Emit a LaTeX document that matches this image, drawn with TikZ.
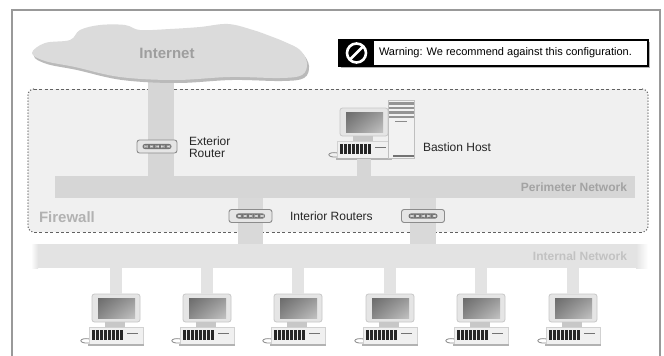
\documentclass[tikz,border=0pt]{standalone}
\usepackage{fontspec}
\setmainfont{Liberation Sans}
\usetikzlibrary{shadings}
\begin{document}
\begin{tikzpicture}[x=1pt,y=-1pt,
  every node/.style={inner sep=0pt, outer sep=0pt},
  frameline/.style={draw=black!40, line width=1.2pt},
  dashborder/.style={draw=black!62, line width=1pt, dash pattern=on 3pt off 2.4pt},
  dotborder/.style={draw=black!62, line width=1.1pt, dash pattern=on 1.1pt off 1.9pt},
  netbar/.style={fill=#1, minimum height=22pt},
  stemline/.style={draw=#1, line width=12pt},
  netlabel/.style={font=\bfseries\fontsize{12}{14}\selectfont, text=#1},
  zonelabel/.style={font=\bfseries\fontsize{15}{18}\selectfont, text=#1},
  plainlabel/.style={font=\fontsize{12}{12.5}\selectfont, text=black!85, align=left},
  router/.style={draw=black!45, fill=black!10, line width=0.9pt, rounded corners=2.5pt,
    minimum width=#1, minimum height=13pt,
    path picture={
      \fill[black!55] ([shift={(-14.5,-2.6)}]path picture bounding box.center) rectangle ++(29,5.2);
      \foreach \k in {0,...,4}
        \fill[black!12] ([shift={(-12.6+\k*5.6,-0.8)}]path picture bounding box.center) rectangle ++(3.2,1.6);
    }},
  monitor/.style={draw=black!22, fill=black!10, line width=0.8pt, rounded corners=2.5pt,
    minimum width=48pt, minimum height=28pt},
  cbase/.style={draw=black!18, fill=black!6, line width=0.6pt, minimum width=54pt, minimum height=18pt},
  tower/.style={draw=black!25, fill=black!5, line width=0.7pt, minimum width=26pt, minimum height=58pt,
    path picture={
      \foreach \k in {0,...,3}
        \fill[black!42] ([shift={(-13,-27+\k*4.6)}]path picture bounding box.center) rectangle ++(26,2.6);
      \fill[black!45] ([shift={(-6,-8.5)}]path picture bounding box.center) rectangle ++(12,1.2);
      \fill[black!55] ([shift={(-8,25.5)}]path picture bounding box.center) rectangle ++(21,2.5);
    }},
  computer/.pic={
    \draw[black!45, line width=0.8pt] (-26,45) .. controls (-38,43) and (-38,50) .. (-27,49);
    \node[monitor] (-monitor) at (0,14) {};
    \shade[upper left=black!58, upper right=black!40, lower left=black!46, lower right=black!24]
      (-18,4) rectangle (19,24);
    \fill[black!22] (-11,28) rectangle (9,33);
    \node[cbase] (-base) at (0,42) {};
    \foreach \k in {0,...,7}
      \fill[black!85] (-24+4*\k,36) rectangle ++(2.5,10);
    \fill[black!55] (11,38.6) rectangle (22,40.4);
    \fill[black!30] (-28,49.5) rectangle (28,51.5);
  }
]
\useasboundingbox (0,0) rectangle (664,356);
\fill[white] (0,0) rectangle (664,356);

% outer frame
\draw[frameline] (12,356) -- (12,10) -- (660,10) -- (660,356);

% firewall zone
\fill[black!6, rounded corners=6pt] (28,89) rectangle (648,232);
\draw[dotborder, rounded corners=6pt] (34,89) -- (28,89) -- (28,232) -- (34,232);
\draw[dotborder, rounded corners=6pt] (642,89) -- (648,89) -- (648,232) -- (642,232);
\draw[dashborder] (34,89) -- (642,89);
\draw[dashborder] (34,232) -- (642,232);

% network backbones
\node[netbar=black!16, minimum width=580pt] (perim) at (345,187) {};
\node[netbar=black!11, minimum width=598pt, minimum height=24pt] (intnet) at (337,256) {};
\shade[left color=white, right color=black!11] (31,244) rectangle (38,268);
\shade[left color=black!11, right color=white] (636,244) rectangle (648,268);

% cloud and its drop
\coordinate (cloudfoot) at (161,72);
\draw[stemline=black!16, line width=26pt] (cloudfoot) -- (cloudfoot |- perim.north);
\fill[black!27, shift={(2,3)}] plot[smooth cycle, tension=0.6] coordinates {
  (32,53) (45,43) (70,40) (80,30) (100,25) (125,25) (140,30) (170,29) (200,27)
  (228,24) (253,30) (270,36) (285,42) (300,50) (307,63) (302,75) (280,78)
  (230,77) (175,80) (120,77) (75,67) (45,61)};
\fill[black!14] plot[smooth cycle, tension=0.6] coordinates {
  (32,53) (45,43) (70,40) (80,30) (100,25) (125,25) (140,30) (170,29) (200,27)
  (228,24) (253,30) (270,36) (285,42) (300,50) (307,63) (302,75) (280,78)
  (230,77) (175,80) (120,77) (75,67) (45,61)};
\node[zonelabel=black!38] (inettext) at (167,53) {Internet};

% routers
\node[router=40pt] (extr) at (157,146.5) {};
\node[plainlabel, anchor=west] (extrtext) at (189,147) {Exterior\\Router};

\coordinate (irA) at (250.5,216);
\coordinate (irB) at (423,216);
\draw[stemline=black!15, line width=25pt] (irA |- perim.south) -- (irA |- intnet.north);
\draw[stemline=black!15, line width=26pt] (irB |- perim.south) -- (irB |- intnet.north);
\node[router=43pt] (introuterA) at (irA) {};
\node[router=43pt] (introuterB) at (irB) {};
\node[plainlabel, anchor=west] (irtext) at (290,216) {Interior Routers};

% bastion host
\pic (bast) at (364,108) {computer};
\node[tower] (tower) at (401,129) {};
\draw[stemline=black!16, line width=14pt] (bast-base.south) -- (bast-base.south |- perim.north);
\node[plainlabel, anchor=west] (basttext) at (423,147) {Bastion Host};

% labels
\node[netlabel=black!36, anchor=east] (perimtext) at (627,187) {Perimeter Network};
\node[netlabel=black!24, anchor=east] (intnettext) at (627,256) {Internal Network};
\node[zonelabel=black!30, anchor=west] (fwtext) at (39,217) {Firewall};

% internal hosts
\foreach \n/\x in {c1/116, c2/207, c3/298, c4/390, c5/481, c6/573} {
  \pic (\n) at (\x,294) {computer};
  \draw[stemline=black!11] (\n-monitor.north) -- (\n-monitor.north |- intnet.south);
}

% warning banner
\fill[black!30] (341,42) rectangle (650,68);
\draw[line width=1.4pt, fill=white] (339,40) rectangle (648,66);
\fill[black] (339,40) rectangle (374,66);
\node[minimum size=19pt, circle, draw=white, line width=2.6pt] (noicon) at (356.5,53) {};
\draw[white, line width=2.8pt] (noicon.south west) -- (noicon.north east);
\node[font=\fontsize{11}{13}\selectfont, anchor=west] (warntext) at (379,53)
  {Warning: We recommend against this configuration.};
\end{tikzpicture}
\end{document}
